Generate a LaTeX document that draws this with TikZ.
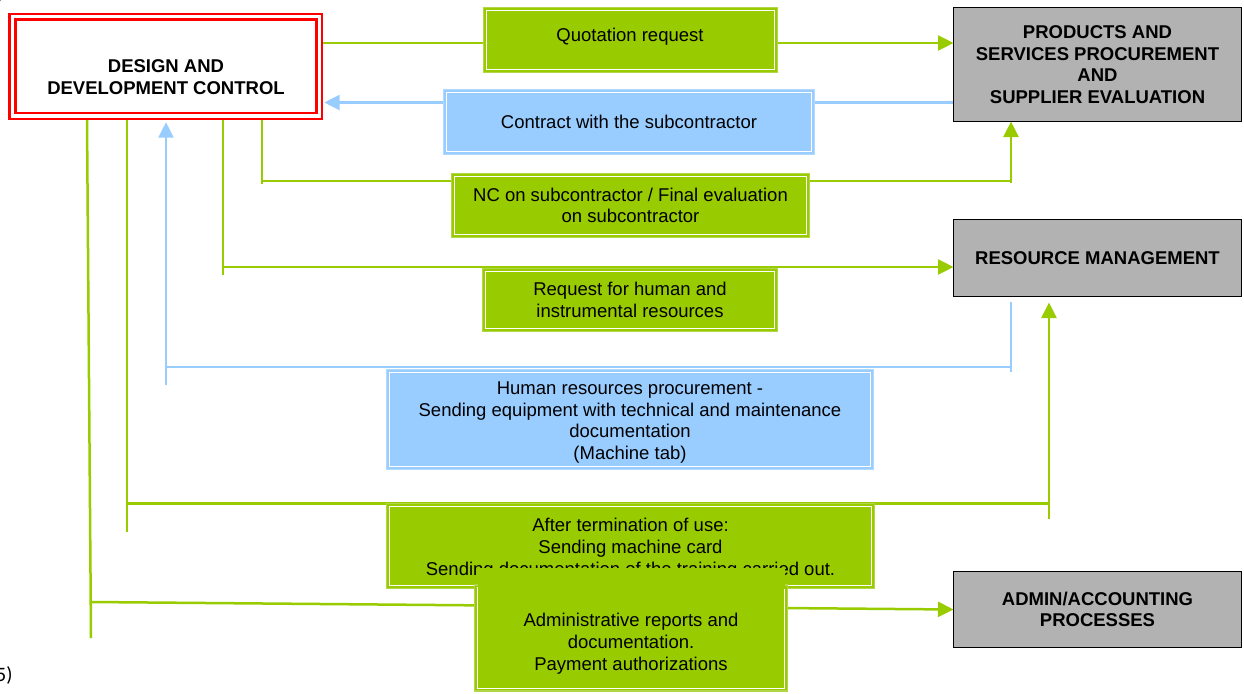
\documentclass[tikz,border=0pt]{standalone}
\usepackage{fontspec}
\setmainfont{Liberation Sans}
\newfontfamily\notefont{Carlito}
\usetikzlibrary{arrows.meta}

\definecolor{cGreen}{HTML}{99CC00}
\definecolor{cGreenEdge}{HTML}{B2D647}
\definecolor{cBlue}{HTML}{99CCFF}
\definecolor{cBlueEdge}{HTML}{B3D9FF}
\definecolor{cGray}{HTML}{B2B2B2}

\pgfdeclarelayer{back}
\pgfsetlayers{back,main}

\tikzset{
  txt/.style={font=\fontsize{18.5}{21.6}\selectfont},
  bold/.style={font=\fontsize{18.5}{21.6}\selectfont\bfseries},
  inset/.style n args={3}{path picture={
      \draw[#1, line width=#2]
        ([shift={(#3,#3)}]path picture bounding box.south west) rectangle
        ([shift={(-#3,-#3)}]path picture bounding box.north east);}},
  gbox/.style={rectangle, fill=cGreen, draw=cGreenEdge, line width=1.4pt,
    inset={white}{1pt}{2.6pt}, txt},
  bbox/.style={rectangle, fill=cBlue, draw=cBlueEdge, line width=1.4pt,
    inset={white}{1pt}{2.6pt}, txt},
  pbox/.style={rectangle, fill=cGray, draw=black, line width=1.3pt, bold,
    minimum width=288pt},
  ddbox/.style={rectangle, fill=white, draw=red, line width=2.4pt,
    inset={red}{2.5pt}{5.8pt}},
  wire/.style={line width=2.5pt, line join=miter},
  gwire/.style={wire, draw=cGreen},
  bwire/.style={wire, draw=cBlue},
  arr/.style={-{Triangle[length=15.5pt,width=15pt]}},
}

\begin{document}
\begin{tikzpicture}[x=1pt, y=-1pt,
  every node/.style={inner sep=0pt, outer sep=0pt, align=center}]
\useasboundingbox (0,0) rectangle (1244,693);

% margin notes, partly cut by the page edge
\node[font=\notefont\fontsize{20.5}{24}\selectfont, anchor=base east] (noteTop) at (4.5,-1) {)};
\node[font=\notefont\fontsize{20.5}{24}\selectfont, anchor=base east] (noteBottom) at (12.5,681) {5)};

% process boxes
\node[ddbox, minimum width=312.7pt, minimum height=104.9pt] (design) at (165.85,66.25) {};
\node[bold] (designtext) at (166,77) {DESIGN AND\\DEVELOPMENT CONTROL};

\node[pbox, minimum height=114pt] (products) at (1097.5,64.5)
  {PRODUCTS AND\\SERVICES PROCUREMENT\\AND\\SUPPLIER EVALUATION};
\node[pbox, minimum height=77pt] (resource) at (1097.5,258) {RESOURCE MANAGEMENT};
\node[pbox, minimum height=76pt] (admingray) at (1097.5,609.5) {ADMIN/ACCOUNTING\\PROCESSES};

% lanes of the connectors
\coordinate (yq) at (0,43);
\coordinate (yc) at (0,102.5);
\coordinate (ncL) at (262,181);
\coordinate (ncR) at (1011,181);
\coordinate (rqL) at (223,267);
\coordinate (huL) at (166,367);
\coordinate (huR) at (1011,367);
\coordinate (huTop) at (1011,302);
\coordinate (afL) at (127,503.5);
\coordinate (afR) at (1049,503.5);
\coordinate (afTip) at (1049,302.5);
\coordinate (adTop) at (87,0);
\coordinate (adBot) at (91,638);
\coordinate (adL) at (91,602);

% message boxes
\node[gbox, minimum width=294pt, minimum height=65pt] (quot) at (630.5,40) {};
\begin{scope}
  \clip (480,0) rectangle (781,44.5);
  \node[txt, anchor=base] (quottext) at (630,42) {Quotation request};
\end{scope}

\node[bbox, minimum width=371pt, minimum height=65pt] (contract) at (629,122)
  {Contract with the subcontractor};
\node[gbox, minimum width=358pt, minimum height=64pt] (nc) at (630.5,205.5)
  {NC on subcontractor / Final evaluation\\on subcontractor};
\node[gbox, minimum width=295pt, minimum height=63pt] (req) at (630,300)
  {Request for human and\\instrumental resources};
\node[bbox, minimum width=487pt, minimum height=100pt] (human) at (630,419.5) {};
\node[txt] (humantext) at (630,422.7)
  {Human resources procurement -\\Sending equipment with technical and maintenance\\documentation\\(Machine tab)};
\node[gbox, minimum width=488pt, minimum height=85pt] (after) at (630.5,546) {};
\node[txt] (aftertext) at (630.5,548.7)
  {After termination of use:\\Sending machine card\\Sending documentation of the training carried out.};
\node[gbox, minimum width=313pt, minimum height=106pt] (admin) at (631,638) {};
\fill[cGreen] (477.5,568) rectangle (784.5,589);
\node[txt] (admintext) at (631,643.7)
  {Administrative reports and\\documentation.\\Payment authorizations};

% connectors
\begin{pgfonlayer}{back}
  \draw[gwire,arr] (design.east |- yq) -- (products.west |- yq);
  \draw[bwire,arr,shorten >=2pt] (products.west |- yc) -- (design.east |- yc);

  \draw[gwire] (design.south -| ncL) -- ([yshift=-2.5pt]ncL);
  \draw[gwire,arr] (ncL) -- (ncR) -- (products.south -| ncR);
  \draw[gwire] (ncR) -- ([yshift=-2pt]ncR);

  \draw[gwire] (design.south -| rqL) -- ([yshift=-8pt]rqL);
  \draw[gwire,arr] (rqL) -- (resource.west |- rqL);

  \draw[bwire] (huTop) -- ([yshift=-5pt]huR);
  \draw[bwire,arr,shorten >=3.5pt] (huR) -- (huL) -- (design.south -| huL);
  \draw[bwire] (huL) -- ([yshift=-18pt]huL);

  \draw[gwire] (design.south -| afL) -- ([yshift=-28pt]afL);
  \draw[gwire,arr] (afL) -- (afR) -- (afTip);
  \draw[gwire] (afR) -- ([yshift=-15pt]afR);

  \draw[gwire] (design.south -| adTop) -- (adBot);
  \draw[gwire,arr] (adL) -- (admingray.west);
\end{pgfonlayer}
\end{tikzpicture}
\end{document}
